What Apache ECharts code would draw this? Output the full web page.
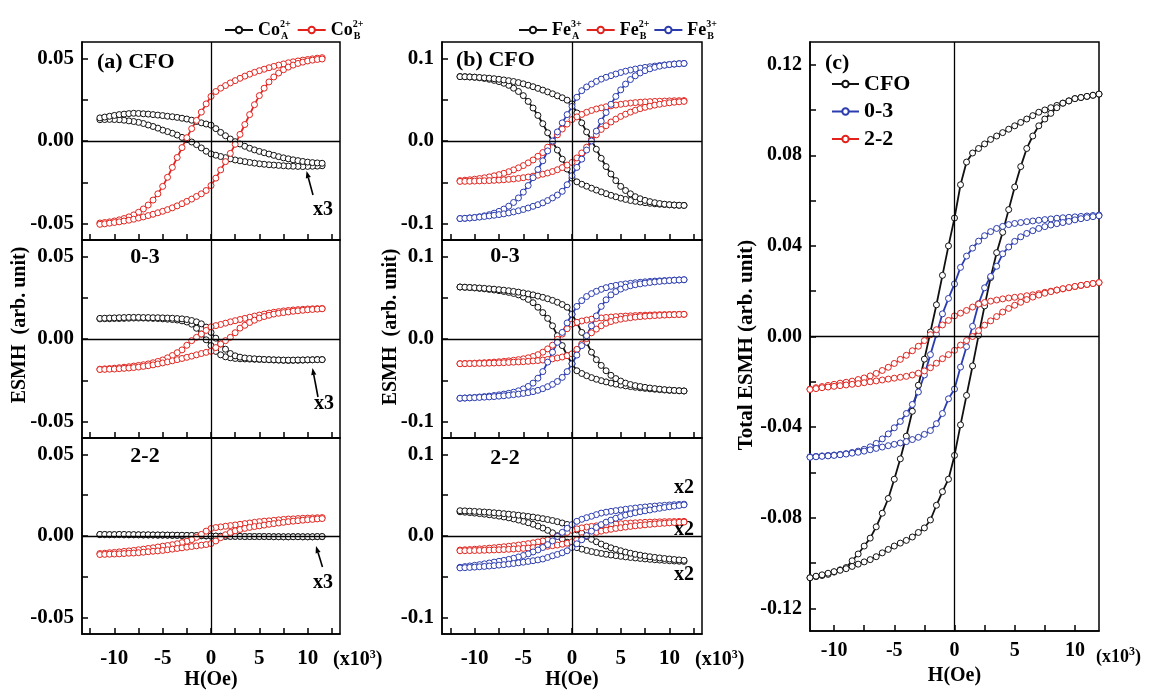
<!DOCTYPE html>
<html>
<head>
<meta charset="utf-8">
<title>ESMH loops</title>
<script src="https://cdn.jsdelivr.net/npm/echarts@6/dist/echarts.min.js"></script>
<style>
  html, body { margin: 0; padding: 0; background: #fff; }
  #chart { width: 1150px; height: 691px; }
</style>
</head>
<body>
<div id="chart"></div>
<script>
// field steps, H in units of 10^3 Oe
const H_DESC = [11.5,11,10.5,10,9.5,9,8.5,8,7.5,7,6.5,6,5.5,5,4.5,4,3.5,3,2.5,2,1.5,1,0.5,0,-0.5,-1,-1.5,-2,-2.5,-3,-3.5,-4,-4.5,-5,-5.5,-6,-6.5,-7,-7.5,-8,-8.5,-9,-9.5,-10,-10.5,-11,-11.5];
const H_ASC = [-11.5,-11,-10.5,-10,-9.5,-9,-8.5,-8,-7.5,-7,-6.5,-6,-5.5,-5,-4.5,-4,-3.5,-3,-2.5,-2,-1.5,-1,-0.5,0,0.5,1,1.5,2,2.5,3,3.5,4,4.5,5,5.5,6,6.5,7,7.5,8,8.5,9,9.5,10,10.5,11,11.5];
const H_DESC_C = [12,11.5,11,10.5,10,9.5,9,8.5,8,7.5,7,6.5,6,5.5,5,4.5,4,3.5,3,2.5,2,1.5,1,0.5,0,-0.5,-1,-1.5,-2,-2.5,-3,-3.5,-4,-4.5,-5,-5.5,-6,-6.5,-7,-7.5,-8,-8.5,-9,-9.5,-10,-10.5,-11,-11.5,-12];
const H_ASC_C = [-12,-11.5,-11,-10.5,-10,-9.5,-9,-8.5,-8,-7.5,-7,-6.5,-6,-5.5,-5,-4.5,-4,-3.5,-3,-2.5,-2,-1.5,-1,-0.5,0,0.5,1,1.5,2,2.5,3,3.5,4,4.5,5,5.5,6,6.5,7,7.5,8,8.5,9,9.5,10,10.5,11,11.5,12];

// (a) Co sites (CoA shown x3)
const A_CFO_COA_DESC = [-0.0150,-0.0152,-0.0153,-0.0154,-0.0155,-0.0154,-0.0153,-0.0152,-0.0150,-0.0148,-0.0146,-0.0144,-0.0141,-0.0138,-0.0134,-0.0130,-0.0125,-0.0120,-0.0115,-0.0108,-0.0101,-0.0094,-0.0086,-0.0078,-0.0062,-0.0042,-0.0022,-0.0006,0.0008,0.0022,0.0036,0.0047,0.0057,0.0066,0.0078,0.0088,0.0097,0.0106,0.0113,0.0118,0.0122,0.0126,0.0129,0.0130,0.0131,0.0130,0.0129];
const A_CFO_COA_ASC = [0.0140,0.0145,0.0150,0.0155,0.0160,0.0163,0.0166,0.0168,0.0167,0.0165,0.0163,0.0160,0.0157,0.0154,0.0150,0.0147,0.0143,0.0138,0.0133,0.0126,0.0118,0.0110,0.0103,0.0096,0.0075,0.0052,0.0032,0.0012,-0.0004,-0.0018,-0.0032,-0.0044,-0.0054,-0.0063,-0.0071,-0.0079,-0.0087,-0.0095,-0.0102,-0.0108,-0.0114,-0.0119,-0.0124,-0.0128,-0.0131,-0.0133,-0.0135];
const A_CFO_COB_DESC = [0.0505,0.0502,0.0498,0.0494,0.0490,0.0485,0.0480,0.0474,0.0467,0.0460,0.0452,0.0444,0.0435,0.0426,0.0416,0.0405,0.0393,0.0380,0.0366,0.0352,0.0336,0.0320,0.0300,0.0270,0.0225,0.0175,0.0125,0.0075,0.0020,-0.0040,-0.0100,-0.0160,-0.0220,-0.0275,-0.0320,-0.0358,-0.0388,-0.0412,-0.0432,-0.0448,-0.0460,-0.0470,-0.0478,-0.0485,-0.0490,-0.0494,-0.0497];
const A_CFO_COB_ASC = [-0.0505,-0.0502,-0.0498,-0.0494,-0.0490,-0.0485,-0.0480,-0.0474,-0.0467,-0.0460,-0.0452,-0.0444,-0.0435,-0.0426,-0.0416,-0.0405,-0.0393,-0.0380,-0.0366,-0.0352,-0.0336,-0.0320,-0.0300,-0.0270,-0.0225,-0.0175,-0.0125,-0.0075,-0.0020,0.0040,0.0100,0.0160,0.0220,0.0275,0.0320,0.0358,0.0388,0.0412,0.0432,0.0448,0.0460,0.0470,0.0478,0.0485,0.0490,0.0494,0.0497];
const A_03_COA_DESC = [-0.0125,-0.0125,-0.0126,-0.0127,-0.0128,-0.0129,-0.0129,-0.0130,-0.0129,-0.0128,-0.0127,-0.0126,-0.0125,-0.0124,-0.0123,-0.0122,-0.0121,-0.0120,-0.0118,-0.0114,-0.0108,-0.0096,-0.0075,-0.0040,-0.0005,0.0030,0.0065,0.0090,0.0103,0.0110,0.0115,0.0118,0.0120,0.0122,0.0124,0.0125,0.0126,0.0127,0.0127,0.0127,0.0126,0.0125,0.0124,0.0124,0.0123,0.0123,0.0122];
const A_03_COA_ASC = [0.0125,0.0126,0.0127,0.0128,0.0129,0.0130,0.0131,0.0131,0.0131,0.0130,0.0130,0.0129,0.0129,0.0128,0.0127,0.0126,0.0124,0.0122,0.0118,0.0112,0.0104,0.0092,0.0072,0.0040,0.0005,-0.0030,-0.0062,-0.0088,-0.0102,-0.0110,-0.0115,-0.0118,-0.0120,-0.0122,-0.0124,-0.0125,-0.0126,-0.0127,-0.0128,-0.0128,-0.0128,-0.0127,-0.0127,-0.0126,-0.0126,-0.0125,-0.0125];
const A_03_COB_DESC = [0.0185,0.0184,0.0183,0.0182,0.0180,0.0178,0.0176,0.0173,0.0170,0.0166,0.0162,0.0157,0.0151,0.0145,0.0139,0.0132,0.0125,0.0118,0.0111,0.0104,0.0096,0.0088,0.0081,0.0074,0.0052,0.0030,0.0010,-0.0010,-0.0038,-0.0066,-0.0083,-0.0100,-0.0114,-0.0127,-0.0136,-0.0144,-0.0151,-0.0156,-0.0160,-0.0164,-0.0168,-0.0171,-0.0174,-0.0177,-0.0179,-0.0181,-0.0183];
const A_03_COB_ASC = [-0.0185,-0.0184,-0.0183,-0.0182,-0.0180,-0.0178,-0.0176,-0.0173,-0.0170,-0.0166,-0.0162,-0.0157,-0.0151,-0.0145,-0.0139,-0.0132,-0.0125,-0.0118,-0.0111,-0.0104,-0.0096,-0.0088,-0.0081,-0.0074,-0.0052,-0.0030,-0.0010,0.0010,0.0038,0.0066,0.0083,0.0100,0.0114,0.0127,0.0136,0.0144,0.0151,0.0156,0.0160,0.0164,0.0168,0.0171,0.0174,0.0177,0.0179,0.0181,0.0183];
const A_22_COA_DESC = [-0.0004,-0.0004,-0.0005,-0.0005,-0.0005,-0.0004,-0.0004,-0.0005,-0.0005,-0.0004,-0.0004,-0.0004,-0.0003,-0.0003,-0.0003,-0.0003,-0.0003,-0.0002,-0.0002,-0.0002,-0.0002,-0.0002,-0.0001,-0.0001,0.0000,0.0001,0.0002,0.0002,0.0003,0.0003,0.0004,0.0004,0.0005,0.0005,0.0005,0.0006,0.0006,0.0006,0.0007,0.0007,0.0007,0.0007,0.0008,0.0008,0.0008,0.0008,0.0008];
const A_22_COA_ASC = [0.0010,0.0010,0.0009,0.0009,0.0010,0.0010,0.0009,0.0009,0.0008,0.0008,0.0008,0.0007,0.0007,0.0007,0.0006,0.0006,0.0005,0.0005,0.0004,0.0004,0.0003,0.0003,0.0002,0.0001,0.0000,-0.0001,-0.0001,-0.0002,-0.0002,-0.0002,-0.0003,-0.0003,-0.0003,-0.0003,-0.0003,-0.0003,-0.0004,-0.0004,-0.0004,-0.0004,-0.0004,-0.0004,-0.0004,-0.0004,-0.0004,-0.0003,-0.0003];
const A_22_COB_DESC = [0.0113,0.0112,0.0111,0.0110,0.0109,0.0107,0.0105,0.0104,0.0102,0.0099,0.0096,0.0093,0.0091,0.0088,0.0084,0.0080,0.0076,0.0072,0.0068,0.0064,0.0060,0.0056,0.0052,0.0046,0.0030,0.0010,-0.0008,-0.0022,-0.0032,-0.0040,-0.0047,-0.0053,-0.0058,-0.0062,-0.0067,-0.0072,-0.0076,-0.0080,-0.0084,-0.0088,-0.0091,-0.0094,-0.0097,-0.0100,-0.0102,-0.0105,-0.0107];
const A_22_COB_ASC = [-0.0113,-0.0112,-0.0111,-0.0110,-0.0109,-0.0107,-0.0105,-0.0104,-0.0102,-0.0099,-0.0096,-0.0093,-0.0091,-0.0088,-0.0084,-0.0080,-0.0076,-0.0072,-0.0068,-0.0064,-0.0060,-0.0056,-0.0052,-0.0046,-0.0030,-0.0010,0.0008,0.0022,0.0032,0.0040,0.0047,0.0053,0.0058,0.0062,0.0067,0.0072,0.0076,0.0080,0.0084,0.0088,0.0091,0.0094,0.0097,0.0100,0.0102,0.0105,0.0107];

// (b) Fe sites (2-2 shown x2)
const B_CFO_FEA3_DESC = [-0.0780,-0.0779,-0.0777,-0.0774,-0.0770,-0.0766,-0.0761,-0.0755,-0.0748,-0.0740,-0.0731,-0.0721,-0.0708,-0.0693,-0.0676,-0.0658,-0.0638,-0.0617,-0.0595,-0.0572,-0.0548,-0.0524,-0.0495,-0.0450,-0.0340,-0.0220,-0.0110,-0.0010,0.0100,0.0210,0.0310,0.0400,0.0480,0.0550,0.0600,0.0640,0.0675,0.0700,0.0720,0.0735,0.0748,0.0758,0.0766,0.0772,0.0776,0.0779,0.0781];
const B_CFO_FEA3_ASC = [0.0780,0.0779,0.0777,0.0774,0.0770,0.0766,0.0761,0.0755,0.0748,0.0740,0.0731,0.0721,0.0708,0.0693,0.0676,0.0658,0.0638,0.0617,0.0595,0.0572,0.0548,0.0524,0.0495,0.0450,0.0340,0.0220,0.0110,0.0010,-0.0100,-0.0210,-0.0310,-0.0400,-0.0480,-0.0550,-0.0600,-0.0640,-0.0675,-0.0700,-0.0720,-0.0735,-0.0748,-0.0758,-0.0766,-0.0772,-0.0776,-0.0779,-0.0781];
const B_CFO_FEB2_DESC = [0.0490,0.0489,0.0488,0.0486,0.0484,0.0482,0.0480,0.0477,0.0474,0.0470,0.0465,0.0460,0.0453,0.0445,0.0436,0.0426,0.0415,0.0402,0.0388,0.0370,0.0348,0.0322,0.0292,0.0260,0.0205,0.0145,0.0075,-0.0010,-0.0075,-0.0140,-0.0185,-0.0230,-0.0265,-0.0298,-0.0325,-0.0350,-0.0372,-0.0392,-0.0408,-0.0422,-0.0435,-0.0446,-0.0455,-0.0463,-0.0470,-0.0475,-0.0480];
const B_CFO_FEB2_ASC = [-0.0490,-0.0489,-0.0488,-0.0486,-0.0484,-0.0482,-0.0480,-0.0477,-0.0474,-0.0470,-0.0465,-0.0460,-0.0453,-0.0445,-0.0436,-0.0426,-0.0415,-0.0402,-0.0388,-0.0370,-0.0348,-0.0322,-0.0292,-0.0260,-0.0205,-0.0145,-0.0075,0.0010,0.0075,0.0140,0.0185,0.0230,0.0265,0.0298,0.0325,0.0350,0.0372,0.0392,0.0408,0.0422,0.0435,0.0446,0.0455,0.0463,0.0470,0.0475,0.0480];
const B_CFO_FEB3_DESC = [0.0940,0.0937,0.0933,0.0928,0.0922,0.0915,0.0908,0.0900,0.0892,0.0883,0.0872,0.0860,0.0846,0.0830,0.0812,0.0792,0.0772,0.0750,0.0722,0.0690,0.0655,0.0610,0.0530,0.0420,0.0320,0.0220,0.0110,0.0000,-0.0120,-0.0240,-0.0345,-0.0445,-0.0540,-0.0620,-0.0690,-0.0745,-0.0790,-0.0825,-0.0853,-0.0875,-0.0893,-0.0907,-0.0918,-0.0926,-0.0932,-0.0937,-0.0940];
const B_CFO_FEB3_ASC = [-0.0940,-0.0937,-0.0933,-0.0928,-0.0922,-0.0915,-0.0908,-0.0900,-0.0892,-0.0883,-0.0872,-0.0860,-0.0846,-0.0830,-0.0812,-0.0792,-0.0772,-0.0750,-0.0722,-0.0690,-0.0655,-0.0610,-0.0530,-0.0420,-0.0320,-0.0220,-0.0110,0.0000,0.0120,0.0240,0.0345,0.0445,0.0540,0.0620,0.0690,0.0745,0.0790,0.0825,0.0853,0.0875,0.0893,0.0907,0.0918,0.0926,0.0932,0.0937,0.0940];
const B_03_FEA3_DESC = [-0.0630,-0.0628,-0.0625,-0.0622,-0.0618,-0.0614,-0.0609,-0.0604,-0.0598,-0.0592,-0.0585,-0.0577,-0.0568,-0.0558,-0.0547,-0.0535,-0.0520,-0.0505,-0.0488,-0.0468,-0.0445,-0.0418,-0.0385,-0.0300,-0.0200,-0.0080,0.0040,0.0160,0.0250,0.0320,0.0385,0.0440,0.0480,0.0510,0.0535,0.0552,0.0565,0.0576,0.0586,0.0594,0.0601,0.0608,0.0614,0.0619,0.0623,0.0627,0.0630];
const B_03_FEA3_ASC = [0.0630,0.0628,0.0625,0.0622,0.0618,0.0614,0.0609,0.0604,0.0598,0.0592,0.0585,0.0577,0.0568,0.0558,0.0547,0.0535,0.0520,0.0505,0.0488,0.0468,0.0445,0.0418,0.0385,0.0300,0.0200,0.0080,-0.0040,-0.0160,-0.0250,-0.0320,-0.0385,-0.0440,-0.0480,-0.0510,-0.0535,-0.0552,-0.0565,-0.0576,-0.0586,-0.0594,-0.0601,-0.0608,-0.0614,-0.0619,-0.0623,-0.0627,-0.0630];
const B_03_FEB2_DESC = [0.0300,0.0299,0.0298,0.0297,0.0296,0.0295,0.0293,0.0291,0.0289,0.0287,0.0284,0.0281,0.0278,0.0275,0.0271,0.0266,0.0261,0.0255,0.0248,0.0240,0.0230,0.0218,0.0202,0.0180,0.0125,0.0060,-0.0005,-0.0075,-0.0120,-0.0160,-0.0190,-0.0212,-0.0228,-0.0240,-0.0250,-0.0258,-0.0265,-0.0271,-0.0276,-0.0280,-0.0284,-0.0287,-0.0290,-0.0293,-0.0295,-0.0297,-0.0299];
const B_03_FEB2_ASC = [-0.0300,-0.0299,-0.0298,-0.0297,-0.0296,-0.0295,-0.0293,-0.0291,-0.0289,-0.0287,-0.0284,-0.0281,-0.0278,-0.0275,-0.0271,-0.0266,-0.0261,-0.0255,-0.0248,-0.0240,-0.0230,-0.0218,-0.0202,-0.0180,-0.0125,-0.0060,0.0005,0.0075,0.0120,0.0160,0.0190,0.0212,0.0228,0.0240,0.0250,0.0258,0.0265,0.0271,0.0276,0.0280,0.0284,0.0287,0.0290,0.0293,0.0295,0.0297,0.0299];
const B_03_FEB3_DESC = [0.0718,0.0716,0.0714,0.0711,0.0708,0.0705,0.0702,0.0698,0.0693,0.0688,0.0682,0.0675,0.0668,0.0660,0.0650,0.0638,0.0622,0.0602,0.0578,0.0550,0.0515,0.0465,0.0395,0.0300,0.0195,0.0080,-0.0040,-0.0160,-0.0280,-0.0395,-0.0475,-0.0535,-0.0575,-0.0605,-0.0628,-0.0645,-0.0658,-0.0668,-0.0677,-0.0685,-0.0692,-0.0698,-0.0703,-0.0708,-0.0712,-0.0715,-0.0718];
const B_03_FEB3_ASC = [-0.0718,-0.0716,-0.0714,-0.0711,-0.0708,-0.0705,-0.0702,-0.0698,-0.0693,-0.0688,-0.0682,-0.0675,-0.0668,-0.0660,-0.0650,-0.0638,-0.0622,-0.0602,-0.0578,-0.0550,-0.0515,-0.0465,-0.0395,-0.0300,-0.0195,-0.0080,0.0040,0.0160,0.0280,0.0395,0.0475,0.0535,0.0575,0.0605,0.0628,0.0645,0.0658,0.0668,0.0677,0.0685,0.0692,0.0698,0.0703,0.0708,0.0712,0.0715,0.0718];
const B_22_FEA3_DESC = [-0.0310,-0.0308,-0.0305,-0.0302,-0.0298,-0.0294,-0.0290,-0.0285,-0.0280,-0.0274,-0.0268,-0.0262,-0.0255,-0.0248,-0.0240,-0.0232,-0.0223,-0.0213,-0.0202,-0.0190,-0.0176,-0.0160,-0.0142,-0.0115,-0.0075,-0.0035,0.0005,0.0040,0.0070,0.0098,0.0122,0.0144,0.0163,0.0180,0.0196,0.0210,0.0223,0.0234,0.0244,0.0253,0.0261,0.0268,0.0275,0.0281,0.0287,0.0292,0.0297];
const B_22_FEA3_ASC = [0.0310,0.0308,0.0305,0.0302,0.0298,0.0294,0.0290,0.0285,0.0280,0.0274,0.0268,0.0262,0.0255,0.0248,0.0240,0.0232,0.0223,0.0213,0.0202,0.0190,0.0176,0.0160,0.0142,0.0115,0.0075,0.0035,-0.0005,-0.0040,-0.0070,-0.0098,-0.0122,-0.0144,-0.0163,-0.0180,-0.0196,-0.0210,-0.0223,-0.0234,-0.0244,-0.0253,-0.0261,-0.0268,-0.0275,-0.0281,-0.0287,-0.0292,-0.0297];
const B_22_FEB2_DESC = [0.0180,0.0179,0.0178,0.0177,0.0176,0.0174,0.0172,0.0170,0.0168,0.0165,0.0162,0.0159,0.0155,0.0151,0.0147,0.0142,0.0137,0.0131,0.0125,0.0118,0.0110,0.0100,0.0088,0.0070,0.0045,0.0020,-0.0005,-0.0028,-0.0045,-0.0060,-0.0072,-0.0083,-0.0093,-0.0102,-0.0110,-0.0118,-0.0125,-0.0131,-0.0137,-0.0143,-0.0148,-0.0153,-0.0157,-0.0161,-0.0165,-0.0168,-0.0171];
const B_22_FEB2_ASC = [-0.0180,-0.0179,-0.0178,-0.0177,-0.0176,-0.0174,-0.0172,-0.0170,-0.0168,-0.0165,-0.0162,-0.0159,-0.0155,-0.0151,-0.0147,-0.0142,-0.0137,-0.0131,-0.0125,-0.0118,-0.0110,-0.0100,-0.0088,-0.0070,-0.0045,-0.0020,0.0005,0.0028,0.0045,0.0060,0.0072,0.0083,0.0093,0.0102,0.0110,0.0118,0.0125,0.0131,0.0137,0.0143,0.0148,0.0153,0.0157,0.0161,0.0165,0.0168,0.0171];
const B_22_FEB3_DESC = [0.0390,0.0387,0.0384,0.0380,0.0376,0.0372,0.0367,0.0362,0.0356,0.0350,0.0343,0.0336,0.0328,0.0320,0.0311,0.0302,0.0292,0.0281,0.0262,0.0242,0.0225,0.0205,0.0180,0.0140,0.0095,0.0045,-0.0005,-0.0060,-0.0105,-0.0140,-0.0170,-0.0195,-0.0218,-0.0238,-0.0256,-0.0272,-0.0286,-0.0298,-0.0309,-0.0319,-0.0330,-0.0340,-0.0350,-0.0358,-0.0366,-0.0374,-0.0382];
const B_22_FEB3_ASC = [-0.0390,-0.0387,-0.0384,-0.0380,-0.0376,-0.0372,-0.0367,-0.0362,-0.0356,-0.0350,-0.0343,-0.0336,-0.0328,-0.0320,-0.0311,-0.0302,-0.0292,-0.0281,-0.0262,-0.0242,-0.0225,-0.0205,-0.0180,-0.0140,-0.0095,-0.0045,0.0005,0.0060,0.0105,0.0140,0.0170,0.0195,0.0218,0.0238,0.0256,0.0272,0.0286,0.0298,0.0309,0.0319,0.0330,0.0340,0.0350,0.0358,0.0366,0.0374,0.0382];

// (c) total ESMH
const C_CFO_DESC = [0.1070,0.1065,0.1060,0.1055,0.1050,0.1040,0.1030,0.1020,0.1010,0.1000,0.0990,0.0975,0.0960,0.0945,0.0930,0.0915,0.0900,0.0885,0.0870,0.0850,0.0830,0.0810,0.0770,0.0670,0.0523,0.0400,0.0270,0.0140,0.0020,-0.0100,-0.0215,-0.0330,-0.0440,-0.0540,-0.0630,-0.0715,-0.0780,-0.0840,-0.0890,-0.0925,-0.0960,-0.0990,-0.1020,-0.1030,-0.1040,-0.1050,-0.1055,-0.1060,-0.1065];
const C_CFO_ASC = [-0.1065,-0.1058,-0.1052,-0.1045,-0.1038,-0.1032,-0.1025,-0.1015,-0.1005,-0.0995,-0.0985,-0.0972,-0.0955,-0.0940,-0.0925,-0.0912,-0.0900,-0.0885,-0.0865,-0.0845,-0.0810,-0.0745,-0.0685,-0.0630,-0.0525,-0.0390,-0.0260,-0.0130,0.0005,0.0135,0.0260,0.0370,0.0460,0.0560,0.0660,0.0750,0.0830,0.0885,0.0930,0.0960,0.0985,0.1010,0.1030,0.1040,0.1050,0.1055,0.1060,0.1065,0.1070];
const C_03_DESC = [0.0536,0.0534,0.0532,0.0530,0.0528,0.0526,0.0524,0.0522,0.0519,0.0516,0.0513,0.0510,0.0507,0.0503,0.0499,0.0494,0.0486,0.0477,0.0463,0.0445,0.0421,0.0390,0.0355,0.0305,0.0232,0.0168,0.0100,0.0010,-0.0080,-0.0170,-0.0245,-0.0300,-0.0340,-0.0375,-0.0403,-0.0430,-0.0452,-0.0472,-0.0487,-0.0498,-0.0506,-0.0512,-0.0517,-0.0520,-0.0523,-0.0525,-0.0527,-0.0529,-0.0531];
const C_03_ASC = [-0.0533,-0.0531,-0.0529,-0.0527,-0.0525,-0.0522,-0.0519,-0.0515,-0.0511,-0.0506,-0.0500,-0.0494,-0.0488,-0.0482,-0.0476,-0.0470,-0.0464,-0.0455,-0.0445,-0.0432,-0.0415,-0.0385,-0.0340,-0.0275,-0.0232,-0.0135,-0.0045,0.0045,0.0145,0.0215,0.0265,0.0310,0.0365,0.0395,0.0420,0.0440,0.0455,0.0467,0.0477,0.0485,0.0492,0.0498,0.0503,0.0508,0.0515,0.0520,0.0525,0.0529,0.0533];
const C_22_DESC = [0.0238,0.0234,0.0229,0.0225,0.0220,0.0215,0.0210,0.0205,0.0200,0.0195,0.0189,0.0184,0.0180,0.0176,0.0173,0.0170,0.0166,0.0161,0.0156,0.0150,0.0143,0.0130,0.0115,0.0103,0.0091,0.0071,0.0051,0.0030,0.0008,-0.0018,-0.0043,-0.0063,-0.0083,-0.0101,-0.0119,-0.0136,-0.0150,-0.0163,-0.0174,-0.0183,-0.0190,-0.0197,-0.0202,-0.0206,-0.0211,-0.0216,-0.0221,-0.0226,-0.0232];
const C_22_ASC = [-0.0234,-0.0230,-0.0226,-0.0223,-0.0220,-0.0217,-0.0214,-0.0211,-0.0208,-0.0204,-0.0200,-0.0196,-0.0192,-0.0188,-0.0184,-0.0180,-0.0176,-0.0170,-0.0162,-0.0152,-0.0138,-0.0118,-0.0098,-0.0080,-0.0061,-0.0038,-0.0018,0.0000,0.0026,0.0050,0.0069,0.0088,0.0108,0.0124,0.0138,0.0151,0.0163,0.0174,0.0183,0.0191,0.0198,0.0205,0.0211,0.0216,0.0221,0.0226,0.0230,0.0234,0.0238];

// ticks and labels
const X_TICKS_AB = [-12.5,-10,-7.5,-5,-2.5,0,2.5,5,7.5,10,12.5];
const X_TICKS_C = [-10,-7.5,-5,-2.5,0,2.5,5,7.5,10];
const X_LABELS = [-10,-5,0,5,10];
const A_YTICKS = [-0.05,-0.025,0,0.025,0.05];
const A_YLABELS = [-0.05,0,0.05];
const B_YTICKS = [-0.1,-0.05,0,0.05,0.1];
const B_YLABELS = [-0.1,0,0.1];
const C_YTICKS = [-0.12,-0.1,-0.08,-0.06,-0.04,-0.02,0,0.02,0.04,0.06,0.08,0.1,0.12];
const C_YLABELS = [-0.12,-0.08,-0.04,0,0.04,0.08,0.12];

const FONT = '"Liberation Serif","Times New Roman",serif';
const BLACK = '#111111', RED = '#e2231d', BLUE = '#2b3caf';

const GRIDS = [
  {left: 82, top: 42, width: 258, height: 198},
  {left: 82, top: 240, width: 258, height: 198},
  {left: 82, top: 438, width: 258, height: 199},
  {left: 442, top: 42, width: 260, height: 198},
  {left: 442, top: 240, width: 260, height: 198},
  {left: 442, top: 438, width: 260, height: 199},
  {left: 810, top: 42, width: 289, height: 595}
];

const CURVES = [
  [0, 'CoA', BLACK, A_CFO_COA_DESC, A_CFO_COA_ASC],
  [0, 'CoB', RED, A_CFO_COB_DESC, A_CFO_COB_ASC],
  [1, 'CoA', BLACK, A_03_COA_DESC, A_03_COA_ASC],
  [1, 'CoB', RED, A_03_COB_DESC, A_03_COB_ASC],
  [2, 'CoA', BLACK, A_22_COA_DESC, A_22_COA_ASC],
  [2, 'CoB', RED, A_22_COB_DESC, A_22_COB_ASC],
  [3, 'FeA3', BLACK, B_CFO_FEA3_DESC, B_CFO_FEA3_ASC],
  [3, 'FeB2', RED, B_CFO_FEB2_DESC, B_CFO_FEB2_ASC],
  [3, 'FeB3', BLUE, B_CFO_FEB3_DESC, B_CFO_FEB3_ASC],
  [4, 'FeA3', BLACK, B_03_FEA3_DESC, B_03_FEA3_ASC],
  [4, 'FeB2', RED, B_03_FEB2_DESC, B_03_FEB2_ASC],
  [4, 'FeB3', BLUE, B_03_FEB3_DESC, B_03_FEB3_ASC],
  [5, 'FeA3', BLACK, B_22_FEA3_DESC, B_22_FEA3_ASC],
  [5, 'FeB2', RED, B_22_FEB2_DESC, B_22_FEB2_ASC],
  [5, 'FeB3', BLUE, B_22_FEB3_DESC, B_22_FEB3_ASC],
  [6, 'CFO', BLACK, C_CFO_DESC, C_CFO_ASC],
  [6, '0-3', BLUE, C_03_DESC, C_03_ASC],
  [6, '2-2', RED, C_22_DESC, C_22_ASC]
];

function pts(hs, ms) { return hs.map((h, i) => [h, ms[i]]); }

const labelStyle = { fontFamily: FONT, fontWeight: 'bold', color: '#000' };

function xAxisFor(g) {
  const isC = g === 6;
  const bottom = g === 2 || g === 5 || g === 6;
  const ax = {
    type: 'value', gridIndex: g,
    min: isC ? -12 : -13.35, max: isC ? 12 : 13.35,
    axisLine: { show: true, onZero: false, lineStyle: { color: '#000', width: 1.5 } },
    axisTick: { show: true, inside: true, length: 6, lineStyle: { color: '#000', width: 1.5 },
      customValues: isC ? X_TICKS_C : X_TICKS_AB },
    axisLabel: Object.assign({ show: bottom, customValues: X_LABELS, fontSize: isC ? 20 : 21,
      margin: isC ? 10 : 14, formatter: v => String(v) }, labelStyle),
    splitLine: { show: false }
  };
  if (bottom) {
    ax.name = 'H(Oe)';
    ax.nameLocation = 'middle';
    ax.nameGap = isC ? 35 : 33;
    ax.nameTextStyle = Object.assign({ fontSize: 20 }, labelStyle);
  }
  return ax;
}

function yAxisFor(g) {
  const set = g < 3 ? 'a' : (g < 6 ? 'b' : 'c');
  const lim = set === 'a' ? 0.06 : (set === 'b' ? 0.12 : 0.13);
  const ticks = set === 'a' ? A_YTICKS : (set === 'b' ? B_YTICKS : C_YTICKS);
  const labels = set === 'a' ? A_YLABELS : (set === 'b' ? B_YLABELS : C_YLABELS);
  const digits = set === 'b' ? 1 : 2;
  return {
    type: 'value', gridIndex: g, min: -lim, max: lim,
    axisLine: { show: true, onZero: false, lineStyle: { color: '#000', width: 1.5 } },
    axisTick: { show: true, inside: true, length: 6, lineStyle: { color: '#000', width: 1.5 }, customValues: ticks },
    axisLabel: Object.assign({ show: true, customValues: labels, fontSize: set === 'c' ? 20 : 21, margin: 8,
      formatter: v => Number(v).toFixed(digits) }, labelStyle),
    splitLine: { show: false }
  };
}

const seenGrid = {};
const series = CURVES.map(([g, name, color, md, ma]) => {
  const hd = g === 6 ? H_DESC_C : H_DESC;
  const ha = g === 6 ? H_ASC_C : H_ASC;
  const s = {
    type: 'line', name, xAxisIndex: g, yAxisIndex: g,
    data: pts(hd, md).concat(pts(ha, ma)),
    symbol: 'circle', symbolSize: 6, showSymbol: true,
    itemStyle: { color: '#fff', borderColor: color, borderWidth: 1 },
    lineStyle: { color, width: 1.8 },
    emphasis: { disabled: true },
    animation: false
  };
  if (!seenGrid[g]) {
    seenGrid[g] = true;
    // zero lines through the origin
    s.markLine = {
      silent: true, animation: false, symbol: ['none', 'none'],
      label: { show: false },
      lineStyle: { color: '#000', width: 1.3, type: 'solid' },
      emphasis: { disabled: true },
      data: [{ xAxis: 0 }, { yAxis: 0 }]
    };
  }
  return s;
});

const LEGEND_TEXT = {
  CoA: '{n|Co}{u|2+}{d|A}', CoB: '{n|Co}{u|2+}{d|B}',
  FeA3: '{n|Fe}{u|3+}{d|A}', FeB2: '{n|Fe}{u|2+}{d|B}', FeB3: '{n|Fe}{u|3+}{d|B}'
};
const legendRich = {
  n: { fontFamily: FONT, fontWeight: 'bold', fontSize: 18, lineHeight: 22, color: '#000' },
  u: { fontFamily: FONT, fontWeight: 'bold', fontSize: 10, lineHeight: 22, verticalAlign: 'top', width: 1, color: '#000' },
  d: { fontFamily: FONT, fontWeight: 'bold', fontSize: 10, lineHeight: 22, verticalAlign: 'bottom', color: '#000' }
};
function topLegend(data, left, gap) {
  return {
    data, left, top: 14, orient: 'horizontal', selectedMode: false,
    itemWidth: 28, itemHeight: 8, itemGap: gap,
    formatter: n => LEGEND_TEXT[n],
    textStyle: { fontFamily: FONT, fontWeight: 'bold', fontSize: 18, color: '#000', rich: legendRich }
  };
}

function txt(str, x, y, size, align) {
  return { type: 'text', x, y, silent: true,
    style: { text: str, fontFamily: FONT, fontWeight: 'bold', fontSize: size, fill: '#000',
      align: align || 'center', verticalAlign: 'middle' } };
}
function vtxt(str, x, y, size) {
  const t = txt(str, x, y, size, 'center');
  t.rotation = Math.PI / 2;
  return t;
}
function unitTxt(x, y, size) {
  return { type: 'text', x, y, silent: true,
    style: { text: '(x10{s|3})', fontFamily: FONT, fontWeight: 'bold', fontSize: size, fill: '#000',
      align: 'left', verticalAlign: 'middle',
      rich: { s: { fontFamily: FONT, fontWeight: 'bold', fontSize: 12, verticalAlign: 'top', lineHeight: 22 } } } };
}
function arrow(x1, y1, x2, y2) {
  const dx = x2 - x1, dy = y2 - y1, L = Math.hypot(dx, dy);
  const ux = dx / L, uy = dy / L;
  const bx = x2 - ux * 7, by = y2 - uy * 7, px = -uy * 2.6, py = ux * 2.6;
  return [
    { type: 'line', silent: true, shape: { x1, y1, x2: bx, y2: by }, style: { stroke: '#000', lineWidth: 1.6 } },
    { type: 'polygon', silent: true, shape: { points: [[x2, y2], [bx + px, by + py], [bx - px, by - py]] }, style: { fill: '#000' } }
  ];
}

const graphics = [
  txt('(a) CFO', 97, 62, 22, 'left'),
  txt('0-3', 145, 257, 22),
  txt('2-2', 145, 456, 22),
  txt('(b) CFO', 456, 60, 22, 'left'),
  txt('0-3', 505, 256, 22),
  txt('2-2', 505, 458, 22),
  txt('(c)', 825, 63, 22, 'left'),
  txt('x3', 323, 210, 20), txt('x3', 324, 404, 20), txt('x3', 323, 583, 20),
  txt('x2', 684, 488, 20), txt('x2', 684, 530, 20), txt('x2', 684, 575, 20),
  vtxt('ESMH  (arb. unit)', 20, 325, 20),
  vtxt('ESMH  (arb. unit)', 391, 327, 20),
  vtxt('Total ESMH (arb. unit)', 747, 345, 21),
  unitTxt(333, 660, 20), unitTxt(695, 660, 20), unitTxt(1096, 657, 18)
].concat(arrow(313, 195, 306.5, 171), arrow(318, 397, 312.5, 368), arrow(322.5, 567, 316, 546));

const option = {
  backgroundColor: '#fff',
  animation: false,
  grid: GRIDS.map(r => Object.assign({ show: true, borderColor: '#000', borderWidth: 1.5, backgroundColor: 'transparent' }, r)),
  xAxis: GRIDS.map((r, g) => xAxisFor(g)),
  yAxis: GRIDS.map((r, g) => yAxisFor(g)),
  legend: [
    topLegend(['CoA', 'CoB'], 219, 6),
    topLegend(['FeA3', 'FeB2', 'FeB3'], 513, 4),
    {
      data: ['CFO', '0-3', '2-2'], left: 826, top: 68, orient: 'vertical', selectedMode: false,
      itemWidth: 27, itemHeight: 8, itemGap: 5.5,
      textStyle: { fontFamily: FONT, fontWeight: 'bold', fontSize: 22, lineHeight: 22, color: '#000' }
    }
  ],
  graphic: graphics,
  series
};

const chart = echarts.init(document.getElementById('chart'));
chart.setOption(option);
</script>
</body>
</html>
